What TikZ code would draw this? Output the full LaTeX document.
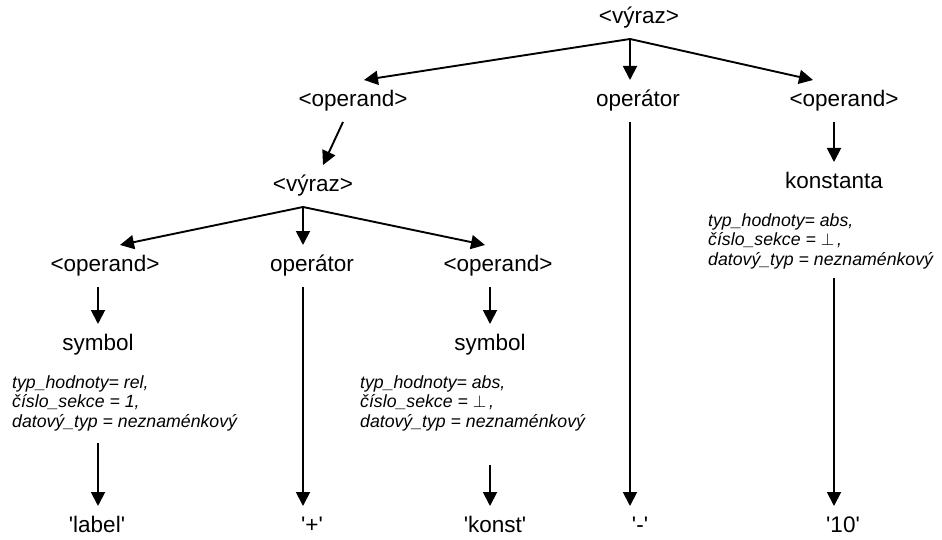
\documentclass[tikz,border=0pt]{standalone}
\usepackage{fontspec}
\setmainfont{Liberation Sans}
\usetikzlibrary{arrows.meta, positioning}
\newcommand{\sq}{\textquotesingle}

\begin{document}
\begin{tikzpicture}[
    x=1pt, y=-1pt,
    nt/.style={font=\fontsize{22.5}{26}\selectfont, text height=16pt, text depth=4.6pt, inner xsep=2pt, inner ysep=10.5pt},
    attr/.style={font=\fontsize{17.7}{19.6}\selectfont\itshape, align=left, inner sep=0pt, anchor=north west},
    arr/.style={-{Triangle[length=14pt,width=14pt]}, line width=1.9pt}
]
\useasboundingbox (0,0) rectangle (942,540);

% Top level
\node[nt] (e1) at (639, 18) {<výraz>};
\node[nt] (o1) at (353, 101) {<operand>};
\node[nt] (op1) at (638, 101) {operátor};
\node[nt] (o2) at (844, 101) {<operand>};

% Left subtree
\node[nt] (e2) at (313, 186) {<výraz>};
\node[nt] (o3) at (105, 266) {<operand>};
\node[nt] (op2) at (312, 266) {operátor};
\node[nt] (o4) at (498, 266) {<operand>};
\node[nt] (s1) at (98, 345) {symbol};
\node[nt] (s2) at (490, 345) {symbol};

% Right subtree
\node[nt] (k) at (834, 183) {konstanta};

% Attributes
\node[attr] (attrL) at (12, 375) {typ\_hodnoty= rel,\\ číslo\_sekce = 1,\\ datový\_typ = neznaménkový};
\node[attr] (attrR) at (360, 375) {typ\_hodnoty= abs,\\ číslo\_sekce = $\perp$\,,\\ datový\_typ = neznaménkový};
\node[attr] (attrK) at (708, 213) {typ\_hodnoty= abs,\\ číslo\_sekce = $\perp$\,,\\ datový\_typ = neznaménkový};

% Leaves
\node[nt] (lbl) at (97, 527) {\sq label\sq};
\node[nt] (plus) at (312, 527) {\sq+\sq};
\node[nt] (konst) at (495, 527) {\sq konst\sq};
\node[nt] (minus) at (640, 527) {\sq-\sq};
\node[nt] (ten) at (843, 527) {\sq 10\sq};

% Edges
\draw[arr] ([xshift=-9pt]e1.south) -- ([xshift=11pt]o1.north);
\draw[arr] ([xshift=-9pt]e1.south) -- ([xshift=-8pt]op1.north);
\draw[arr] ([xshift=-9pt]e1.south) -- ([xshift=-31pt]o2.north);
\draw[arr] ([xshift=-10pt]o1.south) -- ([xshift=10pt]e2.north);
\draw[arr] ([xshift=-10pt]e2.south) -- ([xshift=15pt]o3.north);
\draw[arr] ([xshift=-10pt]e2.south) -- ([xshift=-9pt]op2.north);
\draw[arr] ([xshift=-10pt]e2.south) -- ([xshift=-13pt]o4.north);
\draw[arr] (o3.south -| s1) -- (s1.north);
\draw[arr] (o4.south -| s2) -- (s2.north);
\draw[arr] ([xshift=-10pt]o2.south) -- (k.north);

\draw[arr, shorten <=12pt] (attrL.south -| s1) -- (s1 |- lbl.north);
\draw[arr] ([xshift=-9pt]op2.south) -- ([xshift=-9pt]plus.north);
\draw[arr, shorten <=34pt] (attrR.south -| s2) -- (s2 |- konst.north);
\draw[arr] ([xshift=-8pt]op1.south) -- ([xshift=-10pt]minus.north);
\draw[arr, shorten <=9pt] (attrK.south -| k) -- (k |- ten.north);

\end{tikzpicture}
\end{document}
